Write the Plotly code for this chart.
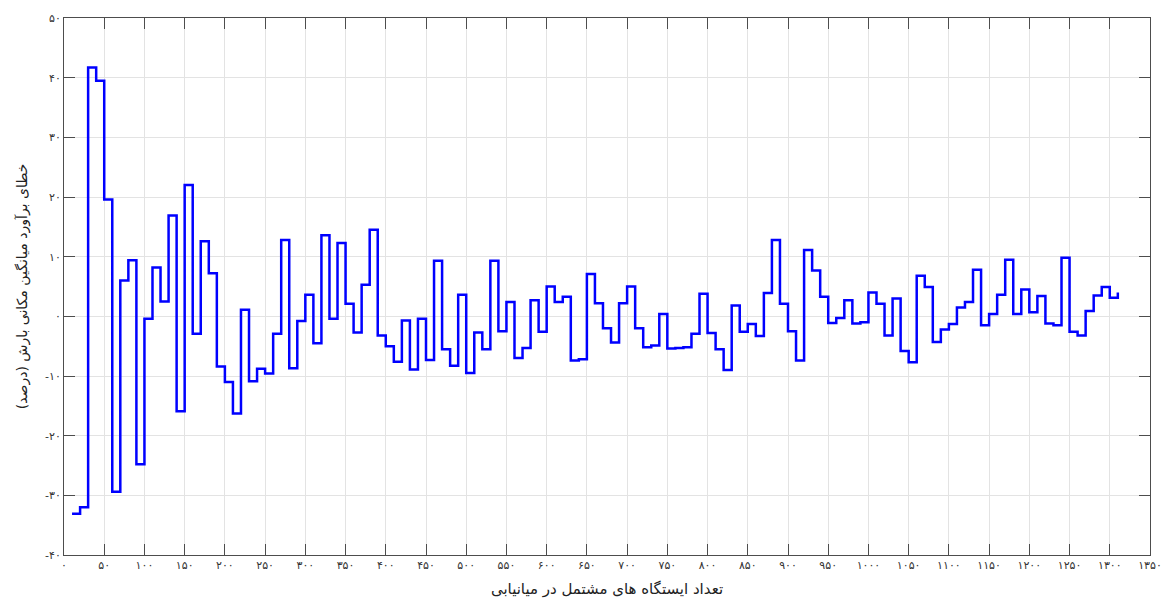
import plotly.graph_objects as go

# Step positions (number of stations) and estimation error (%)
stations = list(range(10, 1320, 10))
error_pct = [
    -33.1, -32.0, 41.7, 39.5, 19.6, -29.4, 6.0, 9.4, -24.8, -0.4,
    8.2, 2.5, 16.9, -15.9, 22.0, -2.9, 12.6, 7.2, -8.4, -11.0,
    -16.3, 1.1, -10.9, -8.8, -9.6, -2.9, 12.8, -8.7, -0.8, 3.6,
    -4.5, 13.6, -0.4, 12.3, 2.1, -2.7, 5.3, 14.5, -3.2, -5.0,
    -7.6, -0.7, -8.9, -0.4, -7.3, 9.3, -5.5, -8.3, 3.6, -9.5,
    -2.7, -5.5, 9.3, -2.5, 2.4, -7.0, -5.3, 2.7, -2.6, 5.0,
    2.4, 3.3, -7.4, -7.2, 7.1, 2.2, -2.0, -4.4, 2.2, 5.0,
    -2.0, -5.2, -4.9, 0.4, -5.4, -5.3, -5.2, -2.9, 3.8, -2.8,
    -5.5, -9.0, 1.8, -2.6, -1.3, -3.3, 3.9, 12.8, 2.1, -2.5,
    -7.4, 11.1, 7.7, 3.3, -1.1, -0.3, 2.7, -1.2, -1.0, 4.0,
    2.1, -3.2, 3.0, -5.8, -7.7, 6.8, 4.9, -4.3, -2.2, -1.3,
    1.5, 2.4, 7.8, -1.5, 0.4, 3.6, 9.5, 0.4, 4.5, 0.7,
    3.4, -1.2, -1.5, 9.8, -2.6, -3.2, 0.9, 3.5, 4.9, 3.1,
    4.0,
]

x_tick_vals = list(range(0, 1351, 50))
y_tick_vals = list(range(-40, 51, 10))
x_title = "تعداد ایستگاه های مشتمل در میانیابی"
y_title = "خطای برآورد میانگین مکانی بارش (درصد)"

fa_digits = str.maketrans("0123456789", "۰۱۲۳۴۵۶۷۸۹")


def fa(n):
    s = str(abs(n)).translate(fa_digits)
    return ("-" + s) if n < 0 else s


x_tick_text = [fa(v) for v in x_tick_vals]
y_tick_text = [fa(v) for v in y_tick_vals]

fig = go.Figure()
fig.add_trace(go.Scatter(
    x=stations, y=error_pct, mode="lines",
    line=dict(color="#0000ff", width=2.5, shape="hv"),
    showlegend=False,
))

font_family = "DejaVu Sans, Noto Sans, sans-serif"
axis_common = dict(
    showline=True, linecolor="#4d4d4d", linewidth=1, mirror="ticks",
    ticks="inside", ticklen=11, tickcolor="#4d4d4d", tickwidth=1,
    showgrid=True, gridcolor="#e3e3e3", gridwidth=1, zeroline=False,
    automargin=False,
    tickfont=dict(family=font_family, size=11, color="#333333"),
)

fig.update_layout(
    width=1164, height=600,
    margin=dict(l=64, r=14, t=18, b=45),
    paper_bgcolor="white", plot_bgcolor="white",
    xaxis=dict(
        range=[0, 1350], tickvals=x_tick_vals, ticktext=x_tick_text,
        title=dict(text=x_title, standoff=12,
                   font=dict(family=font_family, size=15, color="#222222")),
        **axis_common,
    ),
    yaxis=dict(
        range=[-40, 50], tickvals=y_tick_vals, ticktext=y_tick_text,
        title=dict(text=y_title, standoff=14,
                   font=dict(family=font_family, size=14, color="#222222")),
        **axis_common,
    ),
)

fig.write_html("out.html")
